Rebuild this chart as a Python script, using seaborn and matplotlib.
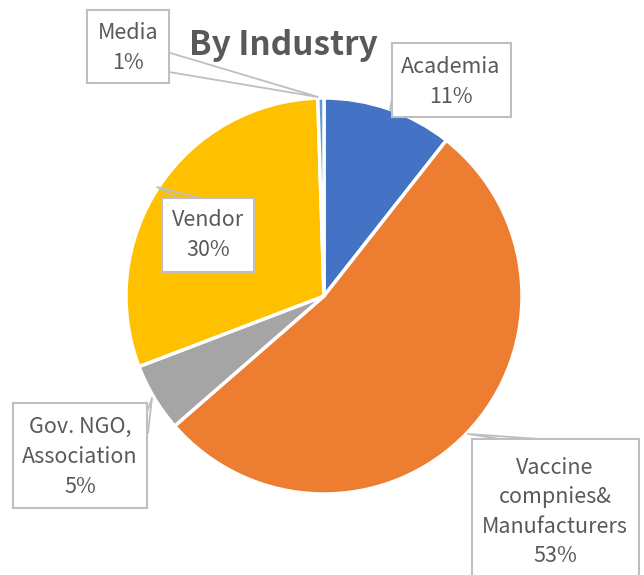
import matplotlib
matplotlib.use("Agg")
import matplotlib.pyplot as plt
import seaborn as sns
from matplotlib.patches import Rectangle

# ==========================================================
# DATA
# ==========================================================

industries = ["Academia", "Vaccine\ncompnies&\nManufacturers", "Gov. NGO,\nAssociation", "Vendor", "Media"]
shares = [10.6, 53.0, 5.6, 30.3, 0.5]
share_labels = ["11%", "53%", "5%", "30%", "1%"]
colors = ["#4472C4", "#ED7D31", "#A5A5A5", "#FFC000", "#5B9BD5"]

TITLE = "By Industry"

# ==========================================================
# STYLE
# ==========================================================

W, H = 644, 575
sns.set_theme(style="white")
plt.rcParams["font.family"] = ["Noto Sans CJK SC", "DejaVu Sans"]

TEXT_COLOR = "#595959"
BOX_COLOR = "#BFBFBF"

# label boxes (left, top, right, bottom) in pixels, and leader polylines
boxes = [
    (392, 43, 511, 117),
    (472, 439, 639, 590),
    (13, 403, 147, 508),
    (162, 198, 254, 272),
    (87, 10, 169, 83),
]
text_centers = [(451, 82), (555, 512), (80, 457), (208, 235), (128, 48)]
leaders = [
    [(390, 110), (393, 93)],
    [(540, 439), (468, 434), (500, 439)],
    [(148, 433), (152, 398), (147, 412)],
    [(178, 198), (157, 187), (200, 198)],
    [(167, 52), (318, 97), (169, 72)],
]


def fy(y):
    return H - y


fig = plt.figure(figsize=(W / 100, H / 100), dpi=100)
ax = fig.add_axes([0, 0, 1, 1])

ax.pie(
    shares,
    colors=colors,
    startangle=90,
    counterclock=False,
    center=(324, fy(296)),
    radius=198,
    wedgeprops=dict(edgecolor="white", linewidth=2.5),
    frame=True,
)
ax.set_xlim(0, W)
ax.set_ylim(0, H)
ax.set_aspect("equal")
ax.axis("off")

for pts in leaders:
    ax.plot([p[0] for p in pts], [fy(p[1]) for p in pts], color=BOX_COLOR, lw=1.3, zorder=3)

for (l, t, r, b), (cx, cy), name, pct in zip(boxes, text_centers, industries, share_labels):
    ax.add_patch(Rectangle((l, fy(b)), r - l, b - t, facecolor="white",
                           edgecolor=BOX_COLOR, lw=1.5, zorder=4))
    ax.text(cx, fy(cy), f"{name}\n{pct}", ha="center", va="center",
            fontsize=15.5, fontweight="light", color=TEXT_COLOR,
            linespacing=1.45, zorder=5)

ax.text(283, fy(45), TITLE, ha="center", va="center", fontsize=24,
        fontweight="bold", color=TEXT_COLOR, zorder=5)

fig.savefig("out.png", dpi=100)
